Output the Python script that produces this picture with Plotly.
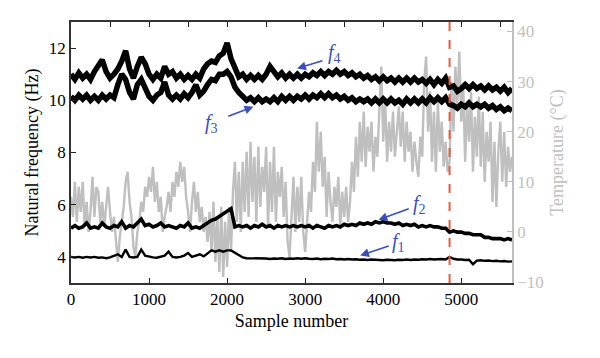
import plotly.graph_objects as go

# ---------------- data ----------------
freq_samples = list(range(0, 5651, 50))
temp_samples = list(range(0, 5651, 25))

f4 = [11.0, 10.8, 11.05, 10.85, 11.0, 10.8, 11.1, 11.35, 11.55, 11.1,
      10.85, 11.0, 11.2, 11.5, 11.9, 11.2, 10.85, 11.3, 11.65, 11.4,
      11.0, 10.8, 11.0, 10.85, 11.3, 11.0, 11.1, 10.85, 11.0, 10.8,
      10.95, 10.8, 11.0, 10.85, 11.2, 11.4, 11.5, 11.45, 11.7, 11.8,
      12.2, 11.6, 11.2, 10.9, 11.0, 10.8, 10.95, 10.8, 10.95, 10.8,
      11.0, 11.3, 11.1, 10.9, 11.05, 10.85, 11.0, 10.85, 11.0, 10.85,
      11.0, 10.9, 11.05, 10.95, 11.1, 10.95, 11.1, 11.0, 11.15, 11.0,
      11.1, 10.95, 11.05, 10.9, 11.0, 10.85, 10.95, 10.8, 10.9, 10.75,
      10.9, 10.75, 10.85, 10.7, 10.85, 10.7, 10.85, 10.7, 10.85, 10.7,
      10.8, 10.65, 10.8, 10.6, 10.8, 10.65, 10.85, 10.5, 10.55, 10.35,
      10.45, 10.6, 10.45, 10.6, 10.45, 10.55, 10.4, 10.55, 10.4, 10.5,
      10.35, 10.5, 10.3, 10.45]

f3 = [10.15, 10.0, 10.2, 10.05, 10.2, 10.0, 10.15, 10.0, 10.2, 10.05,
      10.2, 10.1, 10.6, 11.0, 10.8, 10.3, 10.05, 10.6, 10.8, 10.5,
      10.15, 10.0, 10.2, 10.3, 10.7, 10.2, 10.05, 10.2, 10.05, 10.25,
      10.1, 10.3, 10.6, 10.2, 10.35, 10.6, 10.8, 10.75, 11.0, 11.0,
      11.1, 10.9, 10.5, 10.3, 10.15, 10.0, 10.1, 9.95, 10.1, 9.95,
      10.05, 9.95, 10.1, 9.95, 10.15, 10.0, 10.15, 10.0, 10.15, 10.05,
      10.2, 10.05, 10.2, 10.1, 10.25, 10.1, 10.25, 10.1, 10.2, 10.05,
      10.15, 10.0, 10.1, 9.95, 10.05, 9.95, 10.05, 9.9, 10.05, 9.9,
      10.05, 9.9, 10.05, 9.9, 10.0, 9.85, 10.05, 9.9, 10.05, 9.9,
      10.05, 9.9, 10.1, 9.95, 10.1, 9.95, 10.1, 9.85, 9.8, 9.7,
      9.85, 9.75, 9.9, 9.75, 9.85, 9.75, 9.85, 9.7, 9.8, 9.65,
      9.75, 9.6, 9.7, 9.6]

f2 = [5.1, 5.2, 5.1, 5.15, 5.3, 5.1, 5.15, 5.1, 5.3, 5.15,
      5.1, 5.2, 5.15, 5.35, 5.1, 5.2, 5.15, 5.3, 5.45, 5.2,
      5.25, 5.15, 5.2, 5.3, 5.15, 5.2, 5.15, 5.1, 5.2, 5.15,
      5.3, 5.1, 5.15, 5.1, 5.2, 5.3, 5.4, 5.45, 5.55, 5.65,
      5.75, 5.85, 5.15, 5.2, 5.15, 5.2, 5.1, 5.2, 5.15, 5.25,
      5.15, 5.2, 5.1, 5.2, 5.15, 5.2, 5.15, 5.2, 5.15, 5.2,
      5.15, 5.2, 5.1, 5.2, 5.15, 5.1, 5.2, 5.15, 5.2, 5.15,
      5.25, 5.2, 5.25, 5.2, 5.3, 5.25, 5.3, 5.25, 5.35, 5.3,
      5.35, 5.3, 5.3, 5.25, 5.3, 5.2, 5.25, 5.2, 5.25, 5.15,
      5.2, 5.15, 5.2, 5.15, 5.15, 5.1, 5.1, 4.95, 5.0, 4.95,
      4.95, 4.9, 4.9, 4.85, 4.85, 4.85, 4.75, 4.75, 4.7, 4.7,
      4.7, 4.65, 4.7, 4.65]

f1 = [4.0, 3.98, 4.0, 3.97, 4.0, 3.98, 4.0, 3.97, 3.98, 3.95,
      3.98, 4.05, 4.1, 4.0, 4.28, 4.0, 3.98, 4.0, 4.28, 4.05,
      4.0, 3.98, 3.97, 4.0, 4.05, 4.2, 4.0, 3.98, 4.0, 4.05,
      4.15, 4.0, 4.05, 4.1, 4.02, 4.15, 4.25, 4.2, 4.25, 4.2,
      4.25, 4.25, 4.15, 4.05, 3.98, 3.95, 3.95, 3.93, 3.95, 3.93,
      3.94, 3.92, 3.94, 3.93, 3.95, 3.92, 3.94, 3.93, 3.95, 3.93,
      3.95, 3.93, 3.92, 3.94, 3.91, 3.93, 3.92, 3.94, 3.91, 3.92,
      3.9, 3.92, 3.9, 3.91, 3.89, 3.9, 3.88, 3.9, 3.89, 3.88,
      3.87, 3.89, 3.88, 3.87, 3.89, 3.88, 3.9, 3.88, 3.9, 3.89,
      3.91, 3.9, 3.92, 3.9, 3.91, 3.92, 3.9, 4.0, 3.93, 3.9,
      3.9, 3.88, 3.89, 3.72, 3.86, 3.87, 3.85, 3.86, 3.84, 3.85,
      3.83, 3.84, 3.82, 3.83]

temperature = [7, 3, 10, 2, 9, 4, 10, 1, 6, 0,
               4, 11, 3, 9, 8, 2, 6, 1, 5, 9,
               4, 0, 3, -2, -6, -1, 2, 5, 10, 12,
               6, 3, -3, -5, 0, 2, 6, 4, 9, 7,
               11, 8, 13, 6, 10, 4, 7, 0, 3, 5,
               8, 4, 10, 7, 12, 9, 14, 10, 13, 7,
               4, 0, 6, 10, 4, 8, 2, 5, 0, 3,
               -2, 4, -4, 6, -6, 3, -8, 5, -9, 2,
               -7, 5, -4, 8, 14, 2, 12, 0, 14, 4,
               16, 3, 18, 6, 15, 2, 17, 5, 13, 8,
               17, 1, 14, 4, 17, 2, 12, 7, 13, 3,
               10, -2, -5, 4, 11, 0, 9, 2, 11, 0,
               -4, 2, 8, 4, 14, 8, 22, 12, 20, 9,
               15, 3, 12, 6, 2, 9, 5, 11, 1, 8,
               3, 9, 2, 6, 14, 8, 19, 11, 22, 14,
               24, 13, 21, 16, 22, 12, 19, 15, 25, 33,
               18, 26, 14, 22, 16, 24, 15, 20, 25, 17,
               24, 14, 22, 16, 20, 12, 18, 14, 11, 19,
               15, 30, 35, 20, 28, 14, 24, 12, 26, 16,
               22, 13, 18, 12, 14, 30, 20, 33, 25, 36,
               22, 29, 14, 26, 18, 28, 12, 23, 15, 27,
               13, 24, 10, 20, 14, 22, 6, 18, 5, 16,
               22, 10, 20, 9, 17, 12, 15]

change_sample = 4850
x_range = [0, 5650]
freq_range = [3, 13]
temp_range = [-10.2, 41.9]

x_ticks = [0, 1000, 2000, 3000, 4000, 5000]
freq_ticks = [4, 6, 8, 10, 12]
temp_ticks = [-10, 0, 10, 20, 30, 40]

# label: (tip x, tip y, tail x, tail y, text x, text y)
labels = {
    "1": (3705, 4.05, 4090, 4.44, 4200, 4.55),
    "2": (3940, 5.42, 4346, 5.87, 4470, 6.0),
    "3": (2337, 9.75, 1996, 9.37, 1800, 9.1),
    "4": (2897, 11.22, 3240, 11.53, 3380, 11.78),
}

FONT = "Liberation Serif"
GREY = "#bfbfbf"
BLUE = "#3a4fbf"

fig = go.Figure()

# temperature (behind, on main y axis = right side)
fig.add_trace(go.Scatter(x=temp_samples, y=temperature, mode="lines",
                         line=dict(color=GREY, width=2.4),
                         xaxis="x", yaxis="y", showlegend=False, hoverinfo="skip"))

# frequencies on overlaying axis (drawn on top)
for ser, w in [(f1, 2.4), (f2, 3.6), (f3, 5.5), (f4, 5.5)]:
    fig.add_trace(go.Scatter(x=freq_samples, y=ser, mode="lines",
                             line=dict(color="black", width=w),
                             xaxis="x", yaxis="y2", showlegend=False, hoverinfo="skip"))

# dummy trace so the top axis is drawn
fig.add_trace(go.Scatter(x=[temp_samples[0]], y=[temperature[0]], mode="markers",
                         marker=dict(opacity=0), xaxis="x2", yaxis="y",
                         showlegend=False, hoverinfo="skip"))

fig.add_shape(type="line", xref="x", yref="paper", x0=change_sample, x1=change_sample,
              y0=0, y1=1, line=dict(color="#ea5a3c", width=2, dash="dash"), layer="above")

for num, (tx, ty, ax, ay, lx, ly) in labels.items():
    fig.add_annotation(x=tx, y=ty, ax=ax, ay=ay, xref="x", yref="y2",
                       axref="x", ayref="y2", text="", showarrow=True,
                       arrowhead=2, arrowsize=1.1, arrowwidth=1.6, arrowcolor=BLUE)
    fig.add_annotation(x=lx, y=ly, xref="x", yref="y2",
                       text="<i>f</i><sub>" + num + "</sub>",
                       showarrow=False, font=dict(family=FONT, size=20, color=BLUE))

axis_font = dict(family=FONT, size=17, color="black")
title_font = dict(family=FONT, size=18, color="black")
# the page adds an 8 px body margin, so the figure is offset by 8 px
fig.update_layout(
    width=592, height=350,
    margin=dict(l=63, r=88, t=14, b=75),
    paper_bgcolor="white", plot_bgcolor="white",
    xaxis=dict(range=x_range, tickvals=x_ticks, ticks="inside", ticklen=5,
               tickwidth=1.2, tickcolor="#222", showline=True, linecolor="#333",
               linewidth=1.5, showgrid=False, zeroline=False, tickfont=axis_font,
               title=dict(text="Sample number", font=title_font, standoff=6)),
    xaxis2=dict(range=x_range, overlaying="x", side="top", dtick=500, tick0=0,
                ticks="inside", ticklen=5, tickwidth=1.2, tickcolor="#222",
                showline=True, linecolor="#333", linewidth=1.5, showgrid=False,
                zeroline=False, showticklabels=False),
    yaxis=dict(range=temp_range, side="right", tickvals=temp_ticks, ticks="inside",
               ticklen=5, tickwidth=1.2, tickcolor=GREY, showline=True,
               linecolor=GREY, linewidth=1.5, showgrid=False, zeroline=False,
               tickfont=dict(family=FONT, size=17, color=GREY),
               title=dict(text="Temperature (°C)", font=dict(family=FONT, size=18, color=GREY),
                          standoff=8)),
    yaxis2=dict(range=freq_range, overlaying="y", side="left", tickvals=freq_ticks,
                ticks="inside", ticklen=5, tickwidth=1.2, tickcolor="#222",
                showline=True, linecolor="#333", linewidth=1.5, showgrid=False,
                zeroline=False, tickfont=axis_font,
                title=dict(text="Natural frequency (Hz)", font=title_font, standoff=6)),
)

fig.write_html("out.html")
